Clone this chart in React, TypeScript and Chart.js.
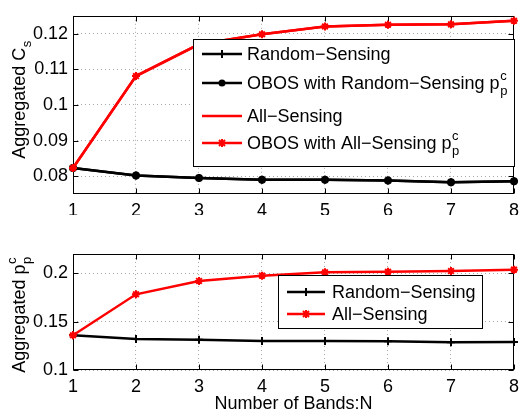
import React, { useEffect, useRef } from "react";
import { Chart, registerables } from "chart.js";

Chart.register(...registerables);

const FONT = '"Liberation Sans", Arial, Helvetica, sans-serif';

// ---- data ----
const bands = [1, 2, 3, 4, 5, 6, 7, 8];
const xTicks = [1, 2, 3, 4, 5, 6, 7, 8];

const csRandomSensing = [0.0823, 0.0802, 0.0795, 0.079, 0.079, 0.0788, 0.0783, 0.0786];
const csObosRandomSensing = [0.0823, 0.0802, 0.0795, 0.079, 0.079, 0.0788, 0.0783, 0.0786];
const csAllSensing = [0.0823, 0.1081, 0.117, 0.1198, 0.122, 0.1225, 0.1226, 0.1236];
const csObosAllSensing = [0.0823, 0.1081, 0.117, 0.1198, 0.122, 0.1225, 0.1226, 0.1236];
const csYTicks = [0.08, 0.09, 0.1, 0.11, 0.12];

const ppRandomSensing = [0.1359, 0.1321, 0.1313, 0.13, 0.13, 0.1297, 0.1287, 0.129];
const ppAllSensing = [0.1359, 0.1783, 0.1921, 0.1976, 0.2011, 0.2017, 0.2024, 0.2038];
const ppYTicks = [0.1, 0.15, 0.2];

type Seg = { t: string; sub?: string; sup?: string };

const SIZE = 18;

function richWidth(ctx: CanvasRenderingContext2D, segs: Seg[], size: number) {
  let w = 0;
  for (const s of segs) {
    ctx.font = `${size}px ${FONT}`;
    w += ctx.measureText(s.t).width;
    if (s.sub || s.sup) {
      ctx.font = `${Math.round(size * 0.72)}px ${FONT}`;
      w += Math.max(
        s.sub ? ctx.measureText(s.sub).width : 0,
        s.sup ? ctx.measureText(s.sup).width : 0
      );
    }
  }
  return w;
}

function drawRich(ctx: CanvasRenderingContext2D, x: number, y: number, segs: Seg[], size: number) {
  ctx.textAlign = "left";
  ctx.textBaseline = "alphabetic";
  ctx.fillStyle = "#000";
  const base = y + size * 0.36;
  let cx = x;
  for (const s of segs) {
    ctx.font = `${size}px ${FONT}`;
    ctx.fillText(s.t, cx, base);
    cx += ctx.measureText(s.t).width;
    if (s.sub || s.sup) {
      ctx.font = `${Math.round(size * 0.72)}px ${FONT}`;
      let w = 0;
      if (s.sup) {
        ctx.fillText(s.sup, cx + 0.5, base - size * 0.55);
        w = Math.max(w, ctx.measureText(s.sup).width);
      }
      if (s.sub) {
        ctx.fillText(s.sub, cx + 0.5, base + size * 0.3);
        w = Math.max(w, ctx.measureText(s.sub).width);
      }
      cx += w + 1;
    }
  }
}

function drawMarker(ctx: CanvasRenderingContext2D, style: string, x: number, y: number, color: string) {
  ctx.save();
  ctx.strokeStyle = color;
  ctx.fillStyle = color;
  ctx.lineWidth = 2;
  const r = 4;
  ctx.beginPath();
  if (style === "cross") {
    ctx.moveTo(x - r, y);
    ctx.lineTo(x + r, y);
    ctx.moveTo(x, y - r);
    ctx.lineTo(x, y + r);
    ctx.stroke();
  } else if (style === "circle") {
    ctx.arc(x, y, 3.5, 0, Math.PI * 2);
    ctx.fill();
  } else if (style === "star") {
    const d = r * 0.75;
    ctx.moveTo(x - r, y);
    ctx.lineTo(x + r, y);
    ctx.moveTo(x, y - r);
    ctx.lineTo(x, y + r);
    ctx.moveTo(x - d, y - d);
    ctx.lineTo(x + d, y + d);
    ctx.moveTo(x - d, y + d);
    ctx.lineTo(x + d, y - d);
    ctx.stroke();
  }
  ctx.restore();
}

type LegendItem = { segs: Seg[]; color: string; marker: string | null; y: number };
type LegendSpec = {
  box: [number, number, number, number];
  lineX: [number, number];
  textX: number;
  items: LegendItem[];
};

function makePlugin(yTitle: Seg[], yTitleCenter: number, legend: LegendSpec, xTitle: { text: string; y: number } | null) {
  return {
    id: "decor" + Math.random().toString(36).slice(2),
    beforeDatasetsDraw(chart: any) {
      const { ctx, chartArea: a, scales } = chart;
      ctx.save();
      ctx.strokeStyle = "#000";
      ctx.lineWidth = 1;
      const L = Math.round(a.left) + 0.5;
      const R = Math.round(a.right) - 0.5;
      const T = Math.round(a.top) + 0.5;
      const B = Math.round(a.bottom) - 0.5;
      ctx.strokeRect(L, T, R - L, B - T);
      ctx.beginPath();
      for (const t of scales.x.ticks) {
        const px = Math.round(scales.x.getPixelForValue(t.value)) + 0.5;
        ctx.moveTo(px, B);
        ctx.lineTo(px, B - 5);
        ctx.moveTo(px, T);
        ctx.lineTo(px, T + 5);
      }
      for (const t of scales.y.ticks) {
        const py = Math.round(scales.y.getPixelForValue(t.value)) + 0.5;
        ctx.moveTo(L, py);
        ctx.lineTo(L + 5, py);
        ctx.moveTo(R, py);
        ctx.lineTo(R - 5, py);
      }
      ctx.stroke();
      ctx.restore();
    },
    afterDraw(chart: any) {
      const ctx: CanvasRenderingContext2D = chart.ctx;
      ctx.save();
      // y title
      const w = richWidth(ctx, yTitle, SIZE);
      ctx.translate(19, yTitleCenter);
      ctx.rotate(-Math.PI / 2);
      drawRich(ctx, -w / 2, 0, yTitle, SIZE);
      ctx.restore();

      // x title
      if (xTitle) {
        ctx.save();
        ctx.font = `${SIZE}px ${FONT}`;
        ctx.fillStyle = "#000";
        ctx.textAlign = "center";
        ctx.textBaseline = "middle";
        const a = chart.chartArea;
        ctx.fillText(xTitle.text, (a.left + a.right) / 2, xTitle.y);
        ctx.restore();
      }

      // legend
      ctx.save();
      const [x0, y0, x1, y1] = legend.box;
      ctx.fillStyle = "#fff";
      ctx.fillRect(x0, y0, x1 - x0, y1 - y0);
      ctx.strokeStyle = "#000";
      ctx.lineWidth = 1;
      ctx.strokeRect(x0 + 0.5, y0 + 0.5, x1 - x0 - 1, y1 - y0 - 1);
      for (const it of legend.items) {
        ctx.strokeStyle = it.color;
        ctx.lineWidth = 2.5;
        ctx.beginPath();
        ctx.moveTo(legend.lineX[0], it.y);
        ctx.lineTo(legend.lineX[1], it.y);
        ctx.stroke();
        if (it.marker) drawMarker(ctx, it.marker, (legend.lineX[0] + legend.lineX[1]) / 2, it.y, it.color);
        drawRich(ctx, legend.textX, it.y, it.segs, SIZE);
      }
      ctx.restore();
    },
  };
}

function fmt(v: number) {
  return String(Number(v.toFixed(4)));
}

function baseOptions(yMin: number, yMax: number, yTicks: number[], padTop: number, xAxisHeight: number) {
  return {
    responsive: false,
    animation: false as const,
    devicePixelRatio: 1,
    layout: { padding: { top: padTop, right: 8, left: 0, bottom: 0 } },
    plugins: { legend: { display: false }, tooltip: { enabled: false }, title: { display: false } },
    scales: {
      x: {
        type: "linear" as const,
        min: 1,
        max: 8,
        afterBuildTicks: (s: any) => {
          s.ticks = xTicks.map((v) => ({ value: v }));
        },
        afterFit: (s: any) => {
          s.height = xAxisHeight;
        },
        ticks: {
          color: "#000",
          font: { family: FONT, size: SIZE },
          padding: 6,
          maxRotation: 0,
          autoSkip: false,
          callback: (v: any) => fmt(Number(v)),
        },
        grid: { color: "#a8a8a8", lineWidth: 1, drawTicks: false },
        border: { display: false, dash: [1, 3] },
      },
      y: {
        type: "linear" as const,
        min: yMin,
        max: yMax,
        afterBuildTicks: (s: any) => {
          s.ticks = yTicks.map((v) => ({ value: v }));
        },
        afterFit: (s: any) => {
          s.width = 73;
        },
        ticks: {
          color: "#000",
          font: { family: FONT, size: SIZE },
          padding: 5,
          autoSkip: false,
          callback: (v: any) => fmt(Number(v)),
        },
        grid: { color: "#a8a8a8", lineWidth: 1, drawTicks: false },
        border: { display: false, dash: [1, 3] },
      },
    },
  };
}

function toPts(ys: number[]) {
  return bands.map((x, i) => ({ x, y: ys[i] }));
}

export default function App() {
  const topRef = useRef<HTMLCanvasElement>(null);
  const botRef = useRef<HTMLCanvasElement>(null);

  useEffect(() => {
    const pp: Seg[] = [{ t: "p", sub: "p", sup: "c" }];
    const topLegend: LegendSpec = {
      box: [193, 39, 515, 167],
      lineX: [202, 242],
      textX: 247,
      items: [
        { segs: [{ t: "Random\u2212Sensing" }], color: "#000", marker: "cross", y: 54 },
        { segs: [{ t: "OBOS with Random\u2212Sensing " }, ...pp], color: "#000", marker: "circle", y: 83 },
        { segs: [{ t: "All\u2212Sensing" }], color: "#ff0000", marker: null, y: 116 },
        { segs: [{ t: "OBOS with All\u2212Sensing " }, ...pp], color: "#ff0000", marker: "star", y: 143 },
      ],
    };
    const botLegend: LegendSpec = {
      box: [278, 60, 483, 114],
      lineX: [287, 325],
      textX: 332,
      items: [
        { segs: [{ t: "Random\u2212Sensing" }], color: "#000", marker: "cross", y: 77 },
        { segs: [{ t: "All\u2212Sensing" }], color: "#ff0000", marker: "star", y: 99 },
      ],
    };

    const lineDs = (label: string, data: number[], color: string, style: any, radius: number, order: number) => ({
      label,
      data: toPts(data),
      borderColor: color,
      backgroundColor: color,
      borderWidth: 2.5,
      pointStyle: style,
      pointRadius: radius,
      pointBorderWidth: 2,
      pointBorderColor: color,
      pointBackgroundColor: color,
      tension: 0,
      clip: false as const,
      order,
    });

    const top = new Chart(topRef.current!, {
      type: "line",
      data: {
        datasets: [
          lineDs("Random-Sensing", csRandomSensing, "#000", "cross", 4, 3),
          lineDs("OBOS with Random-Sensing", csObosRandomSensing, "#000", "circle", 3, 2),
          lineDs("All-Sensing", csAllSensing, "#ff0000", false, 0, 1),
          lineDs("OBOS with All-Sensing", csObosAllSensing, "#ff0000", "star", 4, 0),
        ],
      },
      options: baseOptions(0.075, 0.125, csYTicks, 10, 21) as any,
      plugins: [makePlugin([{ t: "Aggregated C", sub: "s" }], 100, topLegend, null)],
    });

    const bot = new Chart(botRef.current!, {
      type: "line",
      data: {
        datasets: [
          lineDs("Random-Sensing", ppRandomSensing, "#000", "cross", 4, 1),
          lineDs("All-Sensing", ppAllSensing, "#ff0000", "star", 4, 0),
        ],
      },
      options: baseOptions(0.1, 0.22, ppYTicks, 39, 43) as any,
      plugins: [makePlugin([{ t: "Aggregated " }, ...[{ t: "p", sub: "p", sup: "c" }]], 100, botLegend, { text: "Number of Bands:N", y: 189 })],
    });

    return () => {
      top.destroy();
      bot.destroy();
    };
  }, []);

  return (
    <div style={{ position: "absolute", left: 0, top: 0, width: 525, height: 413, background: "#fff" }}>
      <canvas ref={topRef} width={525} height={215} style={{ display: "block", width: 525, height: 215 }} />
      <canvas ref={botRef} width={525} height={198} style={{ display: "block", width: 525, height: 198 }} />
    </div>
  );
}
